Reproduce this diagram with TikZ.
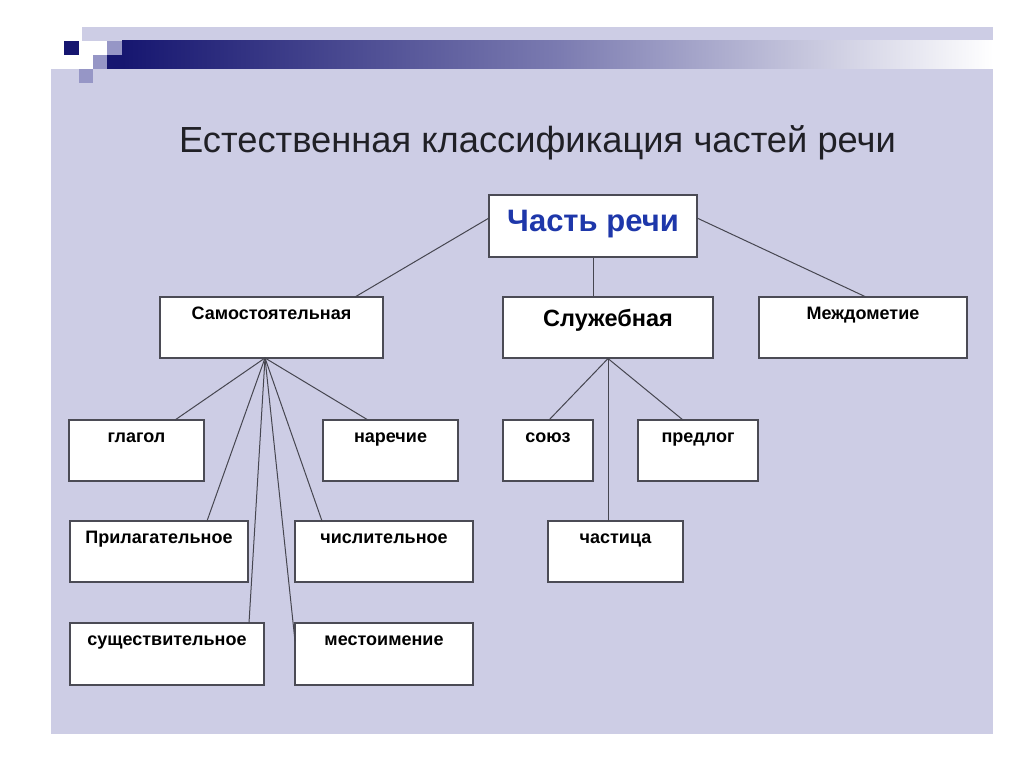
\documentclass[tikz,border=0pt]{standalone}
\usepackage{fontspec}
\setmainfont{Liberation Sans}
\definecolor{lav}{RGB}{205,205,229}
\definecolor{navyd}{RGB}{22,22,112}
\definecolor{lightsq}{RGB}{150,150,198}
\definecolor{titlec}{RGB}{32,32,38}
\definecolor{rootc}{RGB}{30,55,170}
\definecolor{linec}{RGB}{70,70,80}
\definecolor{boxc}{RGB}{75,75,85}
\tikzset{
  frame/.style={draw=boxc, line width=1.1pt, fill=white, inner xsep=2pt, inner ysep=0pt},
  box/.style={frame, font=\bfseries\fontsize{18}{21}\selectfont, text height=22pt, text depth=39pt},
  conn/.style={draw=linec, line width=1pt}
}
\begin{document}
\begin{tikzpicture}[x=1pt,y=-1pt]
\useasboundingbox (0,0) rectangle (1024,767);
\fill[white] (0,0) rectangle (1024,767);
\fill[lav] (51,27) rectangle (993,734);
% header decoration
\fill[white] (51,41) rectangle (993,69);
\fill[white] (51,27) rectangle (82,41);
\shade[left color=navyd, right color=white, middle color=navyd!45!lav] (122,41) rectangle (993,69);
\fill[navyd] (107,55) rectangle (122,69);
\fill[lightsq] (107,41) rectangle (122,55);
\fill[lightsq] (93,55) rectangle (107,69);
\fill[lightsq] (79,69) rectangle (93,83);
\fill[navyd] (64,41) rectangle (79,55);
% title
\node[text=titlec, font=\fontsize{36.3}{40}\selectfont, anchor=base, inner sep=0pt] (title) at (537.5,153) {Естественная классификация частей речи};
% nodes
\node[frame, minimum width=208pt, minimum height=62pt, text=rootc,
  font=\bfseries\fontsize{31}{36}\selectfont, text height=37pt, text depth=25pt] (root) at (593,226) {Часть речи};
\node[box, minimum width=223pt] (sam) at (271.5,327.5) {Самостоятельная};
\node[frame, minimum width=210pt, minimum height=61pt,
  font=\bfseries\fontsize{23.5}{27}\selectfont, text height=29pt, text depth=32pt] (sl) at (608,327.5) {Служебная};
\node[box, minimum width=208pt] (mezh) at (863,327.5) {Междометие};
\node[box, minimum width=135pt] (glag) at (136.5,450.5) {глагол};
\node[box, minimum width=135pt] (nar) at (390.5,450.5) {наречие};
\node[box, minimum width=90pt] (soyuz) at (548,450.5) {союз};
\node[box, minimum width=120pt] (predl) at (698,450.5) {предлог};
\node[box, minimum width=178pt] (pril) at (159,551.5) {Прилагательное};
\node[box, minimum width=178pt] (chisl) at (384,551.5) {числительное};
\node[box, minimum width=135pt] (chast) at (615.5,551.5) {частица};
\node[box, minimum width=194pt, text depth=40pt] (sush) at (167,654) {существительное};
\node[box, minimum width=178pt, text depth=40pt] (mest) at (384,654) {местоимение};
% connection points
\coordinate (rl) at (489,218);
\coordinate (rr) at (697,218);
\coordinate (rb) at (root.south);
\coordinate (samt) at (355,297);
\coordinate (slt) at (sl.north);
\coordinate (mezht) at (866,297);
\coordinate (fa) at (265,358);
\coordinate (fb) at (sl.south);
\coordinate (glagt) at (175,420);
\coordinate (nart) at (368,420);
\coordinate (prilt) at (207,521);
\coordinate (chislt) at (322,521);
\coordinate (susht) at (249,623);
\coordinate (mestl) at (295,641);
\coordinate (soyuzt) at (549,420);
\coordinate (predlt) at (683,420);
\coordinate (chastt) at (608,521);
% connectors
\draw[conn] (rl) -- (samt);
\draw[conn] (rb) -- (rb |- slt);
\draw[conn] (rr) -- (mezht);
\draw[conn] (fa) -- (glagt);
\draw[conn] (fa) -- (nart);
\draw[conn] (fa) -- (prilt);
\draw[conn] (fa) -- (chislt);
\draw[conn] (fa) -- (susht);
\draw[conn] (fa) -- (mestl);
\draw[conn] (fb) -- (soyuzt);
\draw[conn] (fb) -- (predlt);
\draw[conn] (fb) -- (chastt);
\end{tikzpicture}
\end{document}
